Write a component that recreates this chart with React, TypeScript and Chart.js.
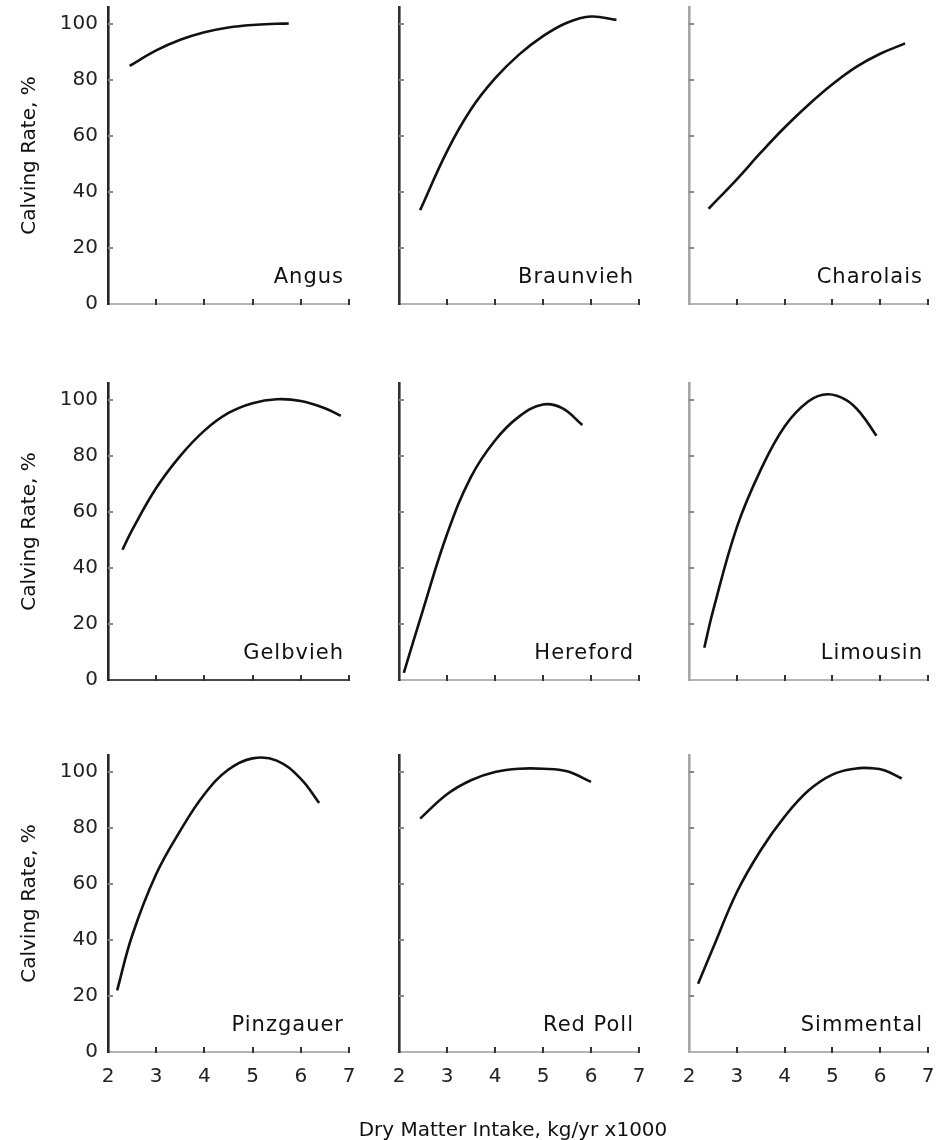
import React, { useEffect, useRef } from "react";
import { Chart, registerables } from "chart.js";

Chart.register(...registerables);

const FONT = '"DejaVu Sans", "Liberation Sans", sans-serif';

// ---------- data ----------
const breeds = ["Angus", "Braunvieh", "Charolais", "Gelbvieh", "Hereford", "Limousin", "Pinzgauer", "Red Poll", "Simmental"];
const xTickValues = [2, 3, 4, 5, 6, 7];
const yTickValues = [0, 20, 40, 60, 80, 100];
const yTitle = "Calving Rate, %";
const xTitle = "Dry Matter Intake, kg/yr x1000";

const angusX = [2.45, 3, 3.5, 4, 4.5, 5, 5.5, 5.75];
const angusY = [85, 90.5, 94.3, 97, 98.7, 99.6, 100, 100.1];
const braunviehX = [2.44, 3, 3.5, 4, 4.5, 5, 5.5, 6, 6.53];
const braunviehY = [33.5, 54.5, 69.5, 80.5, 89, 95.6, 100.4, 102.6, 101.4];
const charolaisX = [2.41, 3, 3.5, 4, 4.5, 5, 5.5, 6, 6.52];
const charolaisY = [34, 44.5, 54, 63, 71.1, 78.4, 84.6, 89.3, 93];
const gelbviehX = [2.3, 2.5, 3, 3.5, 4, 4.5, 5, 5.5, 6, 6.5, 6.83];
const gelbviehY = [46.5, 53.5, 68.5, 80, 89, 95.3, 98.8, 100.2, 99.6, 97, 94.3];
const herefordX = [2.1, 2.5, 3, 3.5, 4, 4.5, 5, 5.4, 5.82];
const herefordY = [2.5, 25, 52, 72.5, 85.5, 94, 98.3, 97, 91];
const limousinX = [2.32, 2.5, 3, 3.5, 4, 4.5, 4.9, 5.3, 5.6, 5.92];
const limousinY = [11.5, 24.5, 54.5, 75, 90.5, 99.5, 102, 99.8, 95, 87.2];
const pinzgauerX = [2.19, 2.5, 3, 3.5, 4, 4.5, 5, 5.5, 6, 6.38];
const pinzgauerY = [22, 41.5, 63.5, 79, 92, 100.8, 104.8, 104, 97.5, 88.9];
const redPollX = [2.44, 3, 3.5, 4, 4.5, 5, 5.5, 6];
const redPollY = [83.3, 92, 97, 99.9, 101.1, 101.1, 100.2, 96.4];
const simmentalX = [2.19, 2.5, 3, 3.5, 4, 4.5, 5, 5.5, 5.8, 6.1, 6.45];
const simmentalY = [24.4, 37, 57, 72, 84, 93.3, 99, 101.2, 101.3, 100.5, 97.6];

const seriesX = [angusX, braunviehX, charolaisX, gelbviehX, herefordX, limousinX, pinzgauerX, redPollX, simmentalX];
const seriesY = [angusY, braunviehY, charolaisY, gelbviehY, herefordY, limousinY, pinzgauerY, redPollY, simmentalY];

// ---------- layout ----------
const COL_L = [108, 399, 689];
const COL_R = [349, 639, 928];
const ROW_T = [7, 383, 755];
const ROW_B = [304, 680, 1052];
const PAD_T = 24;
const PAD_R = 17;
const SIDE = 28;
const X_TITLE_CENTER = 513;
const X_TITLE_Y = 1131;

const Y_AXIS_COLORS = ["#262626", "#303030", "#a6a6a6"];

const decorPlugin = {
  id: "panelDecor",
  afterDraw(chart: any, _args: any, opts: any) {
    const { ctx, chartArea, scales } = chart;
    const xs = scales.x;
    const ys = scales.y;
    ctx.save();
    ctx.lineWidth = 2;
    ctx.strokeStyle = "#333";
    xs.ticks.forEach((t: any) => {
      if (t.value === xs.min) return;
      const px = Math.round(xs.getPixelForValue(t.value));
      ctx.beginPath();
      ctx.moveTo(px, chartArea.bottom + 1);
      ctx.lineTo(px, chartArea.bottom - 5);
      ctx.stroke();
    });
    ctx.strokeStyle = "#888";
    ys.ticks.forEach((t: any) => {
      if (t.value === ys.min) return;
      const py = Math.round(ys.getPixelForValue(t.value));
      ctx.beginPath();
      ctx.moveTo(chartArea.left, py);
      ctx.lineTo(chartArea.left + 5, py);
      ctx.stroke();
    });
    ctx.font = "21px " + FONT;
    ctx.fillStyle = "#111";
    ctx.textAlign = "right";
    ctx.textBaseline = "alphabetic";
    (ctx as any).letterSpacing = "1px";
    ctx.fillText(opts.label, chartArea.right - 5, chartArea.bottom - 21);
    (ctx as any).letterSpacing = "0px";
    if (opts.xTitle) {
      ctx.font = "20px " + FONT;
      ctx.fillStyle = "#111";
      ctx.textAlign = "center";
      ctx.textBaseline = "middle";
      ctx.fillText(opts.xTitle, opts.xTitleX, opts.xTitleY);
    }
    ctx.restore();
  },
};

function Panel({ idx }: { idx: number }) {
  const ref = useRef<HTMLCanvasElement>(null);
  const r = Math.floor(idx / 3);
  const c = idx % 3;
  const left = c === 0 ? 0 : COL_L[c] - SIDE;
  const yWidth = COL_L[c] - left;
  const isBottom = r === 2;
  const hasXTitle = isBottom && c === 1;
  const padR = isBottom ? 22 : PAD_R;
  const xHeight = hasXTitle ? 88 : isBottom ? 44 : 24;
  const top = ROW_T[r] - PAD_T;
  const w = COL_R[c] - left + padR;
  const h = PAD_T + (ROW_B[r] - ROW_T[r]) + xHeight;
  const canvasLeft = hasXTitle ? 260 : left;
  const canvasW = hasXTitle ? w + (left - 260) + 60 : w;

  useEffect(() => {
    const el = ref.current;
    if (!el) return;
    const xsArr = seriesX[idx];
    const ysArr = seriesY[idx];
    const extraL = left - canvasLeft;
    const extraR = canvasW - w - extraL;
    const chart = new Chart(el, {
      type: "line",
      data: {
        datasets: [
          {
            data: xsArr.map((x, i) => ({ x, y: ysArr[i] })),
            borderColor: "#111",
            borderWidth: 2.6,
            pointRadius: 0,
            tension: 0.4,
            fill: false,
          },
        ],
      },
      options: {
        responsive: false,
        animation: false,
        events: [],
        layout: { padding: { top: PAD_T, right: padR + extraR, left: extraL, bottom: 0 } },
        plugins: {
          legend: { display: false },
          tooltip: { enabled: false },
          panelDecor: {
            label: breeds[idx],
            xTitle: hasXTitle ? xTitle : "",
            xTitleX: X_TITLE_CENTER - canvasLeft,
            xTitleY: X_TITLE_Y - top,
          },
        } as any,
        scales: {
          x: {
            type: "linear",
            min: 2,
            max: 7,
            afterBuildTicks: (s: any) => {
              s.ticks = xTickValues.map((v) => ({ value: v }));
            },
            afterFit: (s: any) => {
              s.height = xHeight;
            },
            grid: { display: false, drawTicks: false },
            border: { display: true, color: idx === 3 ? "#4a4a4a" : "#b4b4b4", width: 2 },
            ticks: {
              display: isBottom,
              padding: 13,
              color: "#222",
              font: { family: FONT, size: 20 },
              callback: (v: any) => String(v),
            },
          },
          y: {
            type: "linear",
            min: 0,
            max: 106,
            afterBuildTicks: (s: any) => {
              s.ticks = yTickValues.map((v) => ({ value: v }));
            },
            afterFit: (s: any) => {
              s.width = yWidth;
            },
            grid: { display: false, drawTicks: false },
            border: { display: true, color: Y_AXIS_COLORS[c], width: 2.6 },
            ticks: {
              display: c === 0,
              padding: 10,
              color: "#222",
              font: { family: FONT, size: 20 },
              callback: (v: any) => String(v),
            },
            title: {
              display: c === 0,
              text: yTitle,
              color: "#111",
              font: { family: FONT, size: 20 },
              padding: { top: 18, bottom: 0 },
            },
          },
        },
      } as any,
      plugins: [decorPlugin as any],
    });
    return () => chart.destroy();
  }, []);

  return (
    <canvas
      ref={ref}
      width={canvasW}
      height={h}
      style={{ position: "absolute", left: canvasLeft, top, width: canvasW, height: h }}
    />
  );
}

export default function App() {
  return (
    <div
      style={{
        position: "absolute",
        left: 0,
        top: 0,
        width: 946,
        height: 1140,
        overflow: "hidden",
        background: "#fff",
      }}
    >
      {breeds.map((b, i) => (
        <Panel key={b} idx={i} />
      ))}
    </div>
  );
}
